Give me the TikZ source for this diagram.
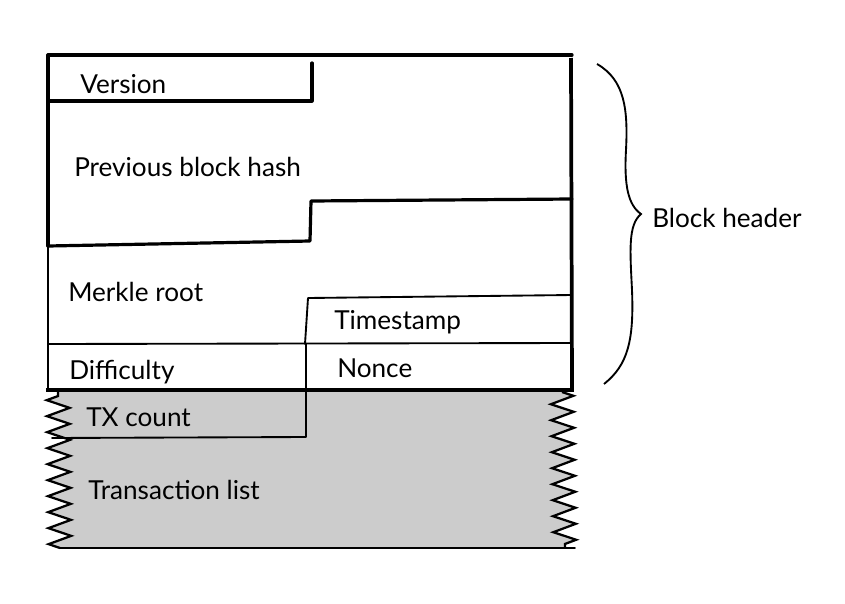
\documentclass[tikz,border=0pt]{standalone}
\usepackage{fontspec}
\setmainfont{Lato}
\usetikzlibrary{decorations.pathmorphing}
\begin{document}
\begin{tikzpicture}[x=0.75pt,y=-0.75pt,
  lbl/.style={anchor=west,inner sep=0pt,font=\fontsize{19.6}{22}\selectfont},
  thick line/.style={line width=2.4pt,line join=round,line cap=round},
  thin line/.style={line width=1.4pt,line join=round,line cap=round},
  zz/.style={decoration={zigzag,segment length=12pt,amplitude=8.5pt}},
  zzline/.style={line width=1.7pt,line join=miter}]
\useasboundingbox (0,0) rectangle (845,603);
% transaction area
\coordinate (rt) at (562,392);
\coordinate (rb) at (565,548);
\coordinate (lb) at (60,548);
\coordinate (lt) at (58,392);
\fill[black!20] (50,390) -- (562,390) -- (rt) decorate[zz]{-- (rb)} -- (lb) decorate[zz]{-- (lt)} -- (50,390) -- cycle;
\draw[zzline,zz] (rt) decorate{-- (rb)};
\draw[zzline,zz] (lb) decorate{-- (lt)};
\draw[thin line] (lb) -- (rb) -- (575,548);
% TX count box
\draw[thin line] (52,438) -- (306,437) -- (306,390);
% header box
\fill[white] (48,55) rectangle (572,390);
\draw[thick line] (48,246) -- (48,55) -- (572,55);
\draw[thin line] (48,246) -- (48,390);
\draw[line width=2.8pt] (571,58) -- (572,390);
\draw[line width=2.8pt] (46,390) -- (574,390);
% version
\draw[thick line] (50,101) -- (312,101) -- (312,63);
% previous block hash
\draw[thick line] (48,246) -- (310,241) -- (311,201) -- (572,199);
% timestamp
\draw[thin line] (305,344) -- (308,298) -- (572,295);
\draw[thin line] (48,344) -- (572,343);
\draw[thin line] (306,344) -- (306,390);
% brace
\draw[line width=1.4pt] (597,64) .. controls (625,80) and (628,110) .. (626,150)
  .. controls (624,185) and (628,205) .. (641,214)
  .. controls (628,225) and (630,250) .. (632,290)
  .. controls (634,340) and (628,365) .. (604,384);
% labels
\node[lbl] (ver) at (80,84) {Version};
\node[lbl] (prev) at (74,167) {Previous block hash};
\node[lbl] (merkle) at (68,292) {Merkle root};
\node[lbl] (time) at (334,322) {Timestamp};
\node[lbl] (diff) at (69,372) {Difficulty};
\node[lbl] (nonce) at (337,368) {Nonce};
\node[lbl] (txc) at (86,417) {TX count};
\node[lbl] (txl) at (88,490) {Transaction list};
\node[lbl] (bh) at (652,218) {Block header};
\end{tikzpicture}
\end{document}
